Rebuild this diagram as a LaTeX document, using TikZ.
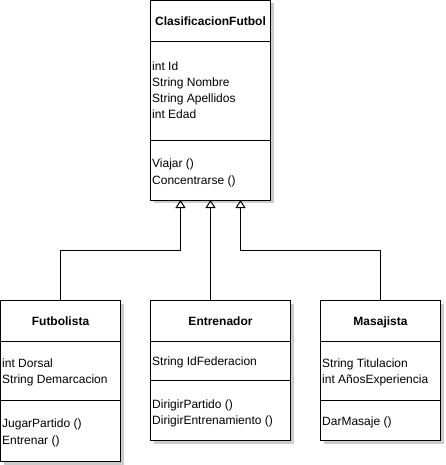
\documentclass[tikz,border=0pt]{standalone}
\usepackage{fontspec}
\setmainfont{Liberation Sans}
\usetikzlibrary{arrows.meta,shadows}
\begin{document}
\begin{tikzpicture}[x=1pt,y=-1pt,
  box/.style={draw, line width=1pt, fill=white, inner sep=0pt, outer sep=0pt, anchor=north west,
    drop shadow={shadow xshift=3pt, shadow yshift=-3pt, fill=black!20, opacity=1}},
  sep/.style={line width=1pt},
  txt/.style={anchor=west, inner sep=0pt, font=\fontsize{12}{14}\selectfont, text height=8.6pt, text depth=0pt},
  ttl/.style={inner sep=0pt, font=\fontsize{12}{14}\selectfont\bfseries, text height=8.6pt, text depth=0pt},
  inh/.style={line width=1pt, -{Triangle[open, width=10pt, length=8pt]}}]
\useasboundingbox (0,0) rectangle (445,465);
% boxes
\node[box, minimum width=120, minimum height=199.5] (cls) at (150.5,0.5) {};
\node[box, minimum width=120, minimum height=161] (fut) at (0.5,300.5) {};
\node[box, minimum width=140, minimum height=140] (ent) at (150.5,300.5) {};
\node[box, minimum width=120, minimum height=140] (mas) at (320.5,300.5) {};
% separators
\draw[sep] (cls.west |- 0,41.5) -- (cls.east |- 0,41.5);
\draw[sep] (cls.west |- 0,140.5) -- (cls.east |- 0,140.5);
\draw[sep] (fut.west |- 0,341.5) -- (fut.east |- 0,341.5);
\draw[sep] (fut.west |- 0,400.5) -- (fut.east |- 0,400.5);
\draw[sep] (ent.west |- 0,341.5) -- (ent.east |- 0,341.5);
\draw[sep] (ent.west |- 0,380.5) -- (ent.east |- 0,380.5);
\draw[sep] (mas.west |- 0,341.5) -- (mas.east |- 0,341.5);
\draw[sep] (mas.west |- 0,400.5) -- (mas.east |- 0,400.5);
% texts
\node[ttl] (clsT) at (210.5,21) {ClasificacionFutbol};
\node[txt] (c1) at (152,66) {int Id};
\node[txt] (c2) at (152,82) {String Nombre};
\node[txt] (c3) at (152,98) {String Apellidos};
\node[txt] (c4) at (152,114) {int Edad};
\node[txt] (c5) at (152,163) {Viajar ()};
\node[txt] (c6) at (152,180) {Concentrarse ()};
\node[ttl] (futT) at (60.5,321) {Futbolista};
\node[txt] (f1) at (2,363) {int Dorsal};
\node[txt] (f2) at (2,379) {String Demarcacion};
\node[txt] (f3) at (2,423) {JugarPartido ()};
\node[txt] (f4) at (2,440) {Entrenar ()};
\node[ttl] (entT) at (220.5,321) {Entrenador};
\node[txt] (e1) at (152,361) {String IdFederacion};
\node[txt] (e2) at (152,404) {DirigirPartido ()};
\node[txt] (e3) at (152,420) {DirigirEntrenamiento ()};
\node[ttl] (masT) at (380.5,321) {Masajista};
\node[txt] (m1) at (322,363) {String Titulacion};
\node[txt] (m2) at (322,379) {int AñosExperiencia};
\node[txt] (m3) at (322,421) {DarMasaje ()};
% connectors
\draw[inh] (fut.north) -- ++(0,-50) -| ([xshift=-30pt]cls.south);
\draw[inh] ([xshift=-10pt]ent.north) -- (cls.south);
\draw[inh] (mas.north) -- ++(0,-50) -| ([xshift=30pt]cls.south);
\end{tikzpicture}
\end{document}
